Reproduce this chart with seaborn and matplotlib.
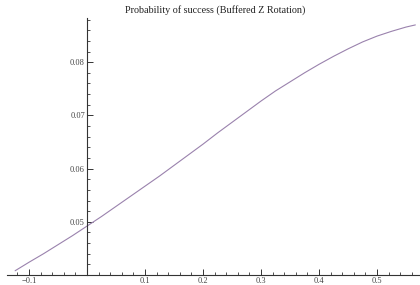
import numpy as np
import pandas as pd
import matplotlib
matplotlib.use("Agg")
import matplotlib.pyplot as plt
import seaborn as sns
from matplotlib.ticker import MultipleLocator

# values
angle = [-0.124, -0.1, -0.075, -0.05, -0.025, 0.0, 0.025, 0.05, 0.075, 0.1,
         0.125, 0.15, 0.175, 0.2, 0.225, 0.25, 0.275, 0.3, 0.325, 0.35,
         0.375, 0.4, 0.425, 0.45, 0.475, 0.5, 0.525, 0.55, 0.566]
prob = [0.0408, 0.0424, 0.0440, 0.0457, 0.0474, 0.0492, 0.0510, 0.0529,
        0.0548, 0.0567, 0.0586, 0.0606, 0.0626, 0.0646, 0.0667, 0.0687,
        0.0707, 0.0727, 0.0746, 0.0763, 0.0780, 0.0796, 0.0811, 0.0825,
        0.0838, 0.0849, 0.0858, 0.0866, 0.0870]
x_ticks = [-0.1, 0.1, 0.2, 0.3, 0.4, 0.5]
y_ticks = [0.05, 0.06, 0.07, 0.08]
title = "Probability of success (Buffered Z Rotation)"

df = pd.DataFrame({"angle": angle, "prob": prob})

sns.set_style("white")
plt.rcParams["font.family"] = ["Liberation Serif", "DejaVu Serif"]

fig = plt.figure(figsize=(4.2, 2.85), dpi=100)
ax = fig.add_axes([7 / 420, 10 / 285, 413 / 420, 257 / 285])

sns.lineplot(data=df, x="angle", y="prob", ax=ax, color="#9a82ad", linewidth=0.8)

ax.set_xlim(-0.138, 0.574)
ax.set_ylim(0.04, 0.0883)

# Mathematica-style axes crossing at the origin of the plot range
ax.spines["left"].set_position(("data", 0))
ax.spines["bottom"].set_position(("data", 0.04))
ax.spines["top"].set_visible(False)
ax.spines["right"].set_visible(False)
for s in ("left", "bottom"):
    ax.spines[s].set_color("#333333")
    ax.spines[s].set_linewidth(0.8)

ax.set_xticks(x_ticks)
ax.set_xticklabels([f"{v:g}".replace("-", "\u2212") for v in x_ticks])
ax.set_yticks(y_ticks)
ax.set_yticklabels([f"{v:.2f}" for v in y_ticks])
ax.xaxis.set_minor_locator(MultipleLocator(0.02))
ax.yaxis.set_minor_locator(MultipleLocator(0.002))
ax.tick_params(which="both", bottom=True, left=True, top=False, right=False)
ax.tick_params(which="major", direction="in", length=4, width=0.7,
               color="#333333", labelsize=6, labelcolor="#444444", pad=1.5)
ax.tick_params(which="minor", direction="in", length=2.2, width=0.6,
               color="#333333")
ax.set_xlabel("")
ax.set_ylabel("")

fig.text(0.512, 0.965, title, ha="center", va="center", fontsize=7.3,
         color="#222222")

fig.savefig("out.png", dpi=100)
